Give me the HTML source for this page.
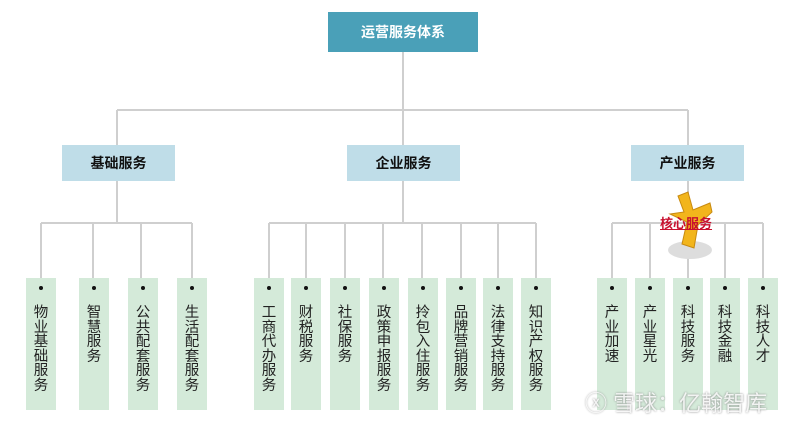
<!DOCTYPE html>
<html><head><meta charset="utf-8"><style>
body{margin:0;width:800px;height:425px;background:#fff;position:relative;overflow:hidden;font-family:"Liberation Sans","Noto Sans CJK SC",sans-serif}
.b{position:absolute;display:flex;align-items:center;justify-content:center;font-weight:bold;font-size:14px}
.l{position:absolute;top:278px;height:132px;width:30px;background:#d4ead9;text-align:center;font-size:14.5px;line-height:14.6px;color:#222}
.l i{display:block;width:4px;height:4px;border-radius:2px;background:#111;margin:8px auto 16px}
.l span{display:block;width:16px;margin:0 auto;word-break:break-all}
</style></head><body>
<svg width="800" height="425" style="position:absolute;left:0;top:0">
<g stroke="#cfcfcf" stroke-width="2" fill="none">
<path d="M403 52V110M117 110H688M117 110V145M403 110V145M688 110V145"/>
<path d="M117 181V223M41 223H192M41 223V278M93 223V278M141 223V278M192 223V278"/>
<path d="M403 181V223M269 223H536M269 223V278M306 223V278M345 223V278M383 223V278M422 223V278M461 223V278M498 223V278M536 223V278"/>
<path d="M688 181V223M612 223H763M612 223V278M650 223V278M688 223V278M725 223V278M763 223V278"/>
</g>
<ellipse cx="690" cy="250" rx="22" ry="9" fill="#ddd"/>
<polygon points="678,196 688,192 693,210 710,203 712,212 698,225 694,248 682,244 687,222 670,214 684,212" fill="#f2b51c" stroke="#c88a10" stroke-width="1"/>
</svg>
<div class="b" style="left:328px;top:12px;width:150px;height:40px;background:#4aa0b8;color:#fff">运营服务体系</div>
<div class="b" style="left:62px;top:145px;width:113px;height:36px;background:#bfdde8;color:#111">基础服务</div>
<div class="b" style="left:347px;top:145px;width:113px;height:36px;background:#bfdde8;color:#111">企业服务</div>
<div class="b" style="left:631px;top:145px;width:113px;height:36px;background:#bfdde8;color:#111">产业服务</div>
<div style="position:absolute;left:660px;top:213px;font-size:13px;font-weight:bold;color:#c8102e;text-decoration:underline">核心服务</div>
<div class="l" style="left:26px"><i></i><span>物业基础服务</span></div>
<div class="l" style="left:79px"><i></i><span>智慧服务</span></div>
<div class="l" style="left:128px"><i></i><span>公共配套服务</span></div>
<div class="l" style="left:177px"><i></i><span>生活配套服务</span></div>
<div class="l" style="left:254px"><i></i><span>工商代办服务</span></div>
<div class="l" style="left:291px"><i></i><span>财税服务</span></div>
<div class="l" style="left:330px"><i></i><span>社保服务</span></div>
<div class="l" style="left:369px"><i></i><span>政策申报服务</span></div>
<div class="l" style="left:408px"><i></i><span>拎包入住服务</span></div>
<div class="l" style="left:446px"><i></i><span>品牌营销服务</span></div>
<div class="l" style="left:483px"><i></i><span>法律支持服务</span></div>
<div class="l" style="left:521px"><i></i><span>知识产权服务</span></div>
<div class="l" style="left:597px"><i></i><span>产业加速</span></div>
<div class="l" style="left:635px"><i></i><span>产业星光</span></div>
<div class="l" style="left:673px"><i></i><span>科技服务</span></div>
<div class="l" style="left:710px"><i></i><span>科技金融</span></div>
<div class="l" style="left:748px"><i></i><span>科技人才</span></div>
<div style="position:absolute;left:585px;top:386px;font-size:22px;color:rgba(255,255,255,0.85);text-shadow:0 0 2px #888;white-space:nowrap">ⓧ 雪球：亿翰智库</div>
</body></html>
